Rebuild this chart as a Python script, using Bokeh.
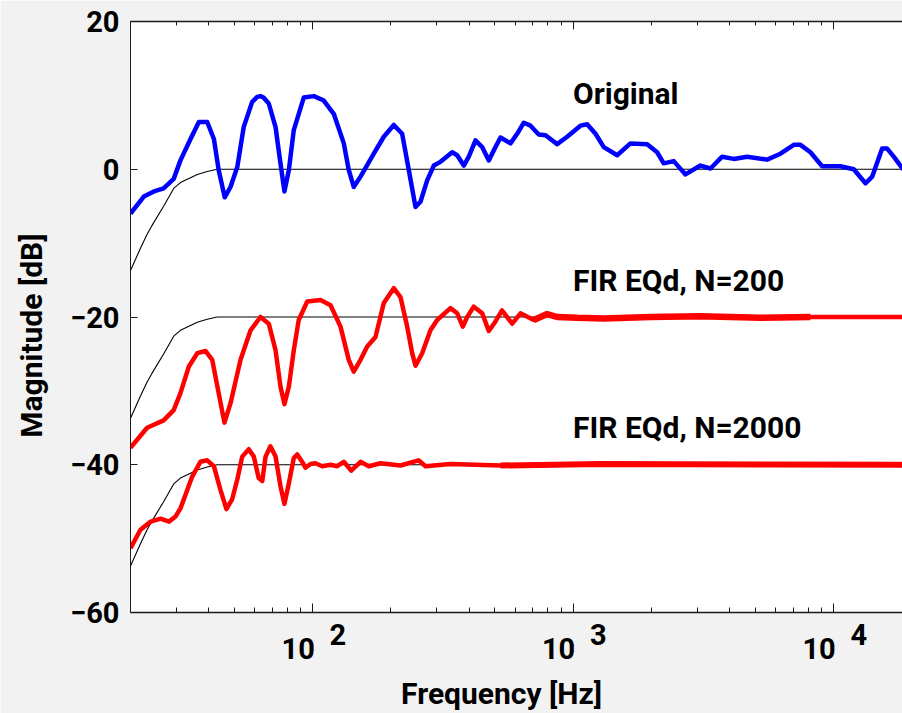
from bokeh.plotting import figure
from bokeh.models import Range1d, LogAxis, LogTicker, FixedTicker, Label, CustomJSTickFormatter
from bokeh.embed import file_html
from bokeh.resources import INLINE

# ---------------- data ----------------
freq_orig = [20.0, 22.5, 24.6, 26.8, 29.3, 31.1, 34.0, 36.6, 39.4, 41.8, 43.6, 46.0, 48.4, 51.4,
             54.4, 58.6, 61.3, 63.1, 64.8, 67.9, 72.1, 75.3, 78.0, 81.1, 84.7, 92.5, 101.1, 110.4,
             120.6, 131.8, 137.7, 143.9, 152.8, 171.8, 187.7, 205.0, 220.8, 234.1, 248.4, 259.6,
             275.4, 292.0, 309.8, 343.6, 359.1, 380.7, 397.9, 422.2, 447.9, 474.9, 503.8, 526.6,
             575.2, 610.3, 647.0, 686.5, 738.6, 783.7, 869.0, 949.3, 1068, 1133, 1220, 1312,
             1477, 1661, 1925, 2103, 2229, 2436, 2701, 3084, 3369, 3737, 4140, 4661, 5563, 6256,
             7037, 7465, 8154, 9042, 10630, 11956, 13263, 14072, 15373, 16066, 17030, 18392,
             20000]
mag_orig = [-6.0, -3.7, -3.0, -2.6, -1.3, 1.2, 4.1, 6.4, 6.4, 4.1, -0.1, -3.8, -2.4, 0.3, 5.7,
            9.1, 9.8, 9.9, 9.7, 8.9, 5.7, 0.8, -3.0, -0.1, 5.3, 9.7, 9.9, 9.3, 7.5, 3.5, -0.1,
            -2.4, -1.0, 2.1, 4.4, 6.0, 4.8, -0.1, -5.1, -4.4, -1.5, 0.5, 1.0, 2.3, 1.9, 0.5, 1.7,
            3.9, 3.0, 1.2, 3.0, 4.3, 3.5, 4.8, 6.3, 5.9, 4.7, 4.6, 3.4, 4.4, 5.9, 6.1, 4.8, 3.0,
            1.9, 3.5, 3.4, 2.3, 0.8, 1.1, -0.7, 0.5, 0.1, 1.7, 1.4, 1.7, 1.3, 2.1, 3.3, 3.3, 2.3,
            0.4, 0.4, 0.0, -1.9, -1.0, 2.8, 2.8, 1.7, 0.1, -0.8]

freq_n200 = [20.0, 23.16, 26.8, 29.3, 31.1, 33.5, 36.1, 38.8, 41.2, 43.6, 45.9, 48.4, 52.9, 57.8,
             63.1, 67.9, 72.1, 75.3, 78.0, 81.1, 84.7, 88.5, 95.4, 107.3, 117.2, 128.0, 137.7,
             143.9, 152.8, 162.1, 174.4, 187.7, 205.0, 217.5, 230.8, 241.2, 248.4, 263.5, 283.5,
             300.9, 338.4, 359.1, 377.3, 392.3, 415.8, 447.9, 474.9, 503.8, 533.5, 584.0, 628.4,
             706.6, 795.6, 869.0, 1037, 1312, 1983, 3084, 5243, 8154, 20000]
mag_n200 = [-37.7, -35.0, -34.0, -32.6, -30.3, -26.7, -24.9, -24.6, -25.8, -30.3, -34.3, -31.7,
            -25.8, -21.8, -20.0, -20.9, -24.5, -29.4, -31.8, -29.4, -24.5, -20.4, -17.9, -17.7,
            -18.4, -21.3, -25.8, -27.4, -25.8, -24.0, -22.7, -18.1, -16.1, -17.3, -21.3, -24.9,
            -26.6, -24.9, -21.8, -20.4, -18.8, -19.5, -21.3, -20.0, -18.6, -19.5, -21.9, -20.6,
            -19.1, -20.9, -19.5, -20.4, -19.6, -20.0, -20.1, -20.2, -20.0, -19.9, -20.1, -20.0,
            -20.0]

freq_n2000 = [20.0, 21.84, 23.9, 26.1, 28.1, 29.8, 31.1, 32.5, 34.5, 37.1, 39.4, 41.8, 44.3, 46.7,
              49.1, 51.4, 53.7, 56.9, 59.5, 62.1, 64.1, 66.0, 68.9, 72.1, 75.3, 78.0, 81.1, 84.7,
              87.3, 91.2, 93.9, 98.2, 102.6, 108.9, 117.2, 124.3, 131.8, 140.7, 152.8, 164.4,
              182.3, 217.5, 255.1, 271.3, 338.4, 526.6, 1274, 20000]
mag_n2000 = [-51.3, -48.8, -47.7, -47.3, -47.7, -47.0, -45.9, -44.1, -41.6, -39.6, -39.4, -40.2,
             -43.4, -46.0, -44.7, -42.0, -38.9, -37.9, -38.9, -41.8, -42.2, -38.9, -37.5, -38.9,
             -42.9, -45.3, -42.5, -39.1, -38.6, -39.6, -40.4, -39.9, -39.8, -40.2, -40.0, -40.2,
             -39.6, -40.8, -39.6, -40.2, -39.8, -40.1, -39.4, -40.2, -39.9, -40.1, -39.9, -40.0]

freq_target = [20.0, 21.84, 23.16, 24.2, 26.8, 29.3, 31.1, 36.1, 39.4, 43.0, 20000]
mag_target = [-13.7, -10.7, -8.8, -7.6, -5.0, -2.6, -1.8, -0.7, -0.3, 0.0, 0.0]
target_offsets = [0, -20, -40]

y_ticks = [-60, -40, -20, 0, 20]
x_decades = [100, 1000, 10000]
x_base_label = "10"
x_exponents = ["2", "3", "4"]
curve_labels = ["Original", "FIR EQd, N=200", "FIR EQd, N=2000"]
curve_label_y = [10.2, -15.0, -34.9]
x_title = "Frequency [Hz]"
y_title = "Magnitude [dB]"

# ---------------- styles ----------------
FONT = "Roboto"
FS = "29px"
FS_T = "30px"
AX = "#1a1a1a"
NB = "\u00a0"

p = figure(width=902, height=713, x_axis_type="log",
           x_range=Range1d(20, 18400), y_range=Range1d(-60, 20),
           output_backend="svg", toolbar_location=None,
           min_border_left=130, min_border_right=0, min_border_top=21, min_border_bottom=100,
           background_fill_color="white", border_fill_color="#f2f2f2",
           outline_line_color=None)
p.grid.visible = False

xa = p.xaxis[0]
xa.ticker = LogTicker(num_minor_ticks=10)
xa.major_label_overrides = {d: NB * 7 + e + "\n" + x_base_label + NB * 4
                            for d, e in zip(x_decades, x_exponents)}
xa.major_label_text_line_height = 0.42
xa.major_label_text_font = FONT
xa.major_label_text_font_style = "bold"
xa.major_label_text_font_size = FS
xa.major_label_text_color = "black"
xa.major_label_standoff = 5
xa.major_tick_in = 9
xa.major_tick_out = 0
xa.minor_tick_in = 5
xa.minor_tick_out = 0
xa.axis_line_color = AX
xa.axis_line_width = 1.5
xa.major_tick_line_color = AX
xa.minor_tick_line_color = AX
xa.axis_label = x_title + NB * 4
xa.axis_label_standoff = 7
xa.axis_label_text_font = FONT
xa.axis_label_text_font_style = "bold"
xa.axis_label_text_font_size = FS_T
xa.axis_label_text_color = "black"

blank = CustomJSTickFormatter(code="return ''")
top = LogAxis(ticker=LogTicker(num_minor_ticks=10), formatter=blank,
              major_tick_in=8, major_tick_out=0, minor_tick_in=4, minor_tick_out=0,
              axis_line_color=AX, axis_line_width=1.5, major_tick_line_color=AX,
              minor_tick_line_color=AX, major_label_text_font_size="1px")
p.add_layout(top, "above")

ya = p.yaxis[0]
ya.ticker = FixedTicker(ticks=y_ticks, minor_ticks=[])
ya.major_tick_in = 7
ya.major_tick_out = 0
ya.minor_tick_in = 0
ya.minor_tick_out = 0
ya.axis_line_color = AX
ya.major_tick_line_color = AX
ya.major_label_standoff = 11
ya.major_label_text_font = FONT
ya.major_label_text_font_style = "bold"
ya.major_label_text_font_size = FS
ya.major_label_text_color = "black"
ya.axis_label = y_title + NB * 5
ya.axis_label_standoff = 18
ya.axis_label_text_font = FONT
ya.axis_label_text_font_style = "bold"
ya.axis_label_text_font_size = FS_T
ya.axis_label_text_color = "black"

# target (thin black) curves
for off in target_offsets:
    p.line(freq_target, [m + off for m in mag_target], line_color="black", line_width=1.1)

p.line(freq_orig, mag_orig, line_color="#0000ff", line_width=4.5, line_join="round")
p.line(freq_n200, mag_n200, line_color="#ff0000", line_width=4.5, line_join="round")
p.line(freq_n2000, mag_n2000, line_color="#ff0000", line_width=4.5, line_join="round")

# dense-ripple bands drawn slightly heavier (same data)
band200 = [(f, m) for f, m in zip(freq_n200, mag_n200) if 700 <= f <= 8200]
p.line([b[0] for b in band200], [b[1] for b in band200], line_color="#ff0000", line_width=6.5)
band2000 = [(f, m) for f, m in zip(freq_n2000, mag_n2000) if f >= 500]
p.line([b[0] for b in band2000], [b[1] for b in band2000], line_color="#ff0000", line_width=6)

for t, yv in zip(curve_labels, curve_label_y):
    p.add_layout(Label(x=1000, y=yv, text=t, text_align="left", text_baseline="alphabetic",
                       text_font=FONT, text_font_style="bold", text_font_size=FS_T,
                       text_color="black"))

open("out.html", "w").write(file_html(p, INLINE))
